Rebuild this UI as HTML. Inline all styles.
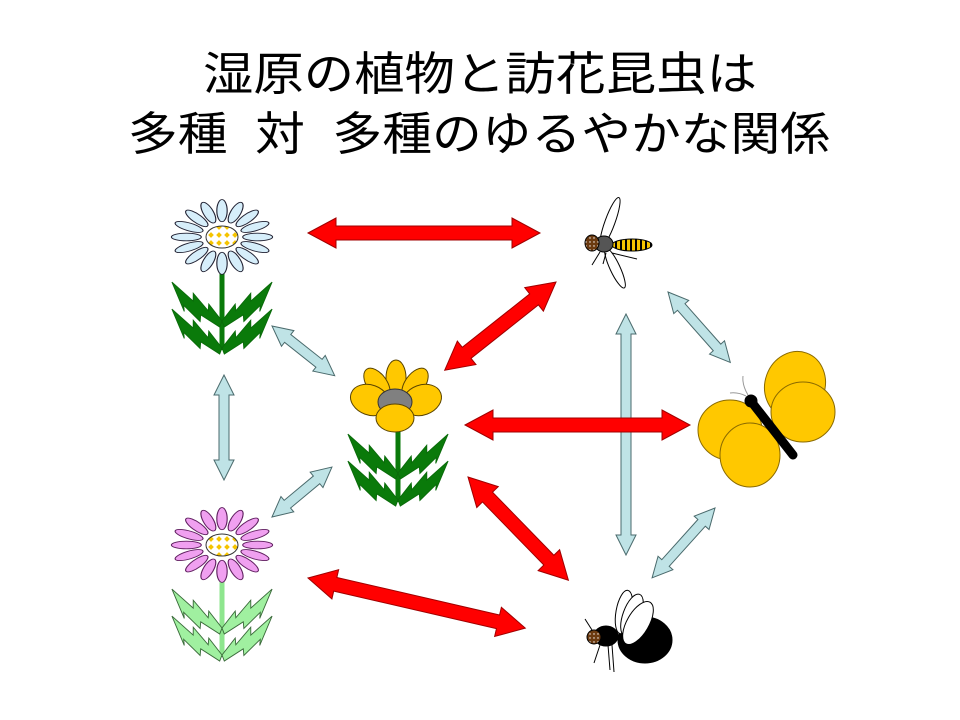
<!DOCTYPE html>
<html><head><meta charset="utf-8"><style>html,body{margin:0;padding:0;background:#fff}svg{display:block}</style></head>
<body>
<svg width="960" height="720" viewBox="0 0 960 720" xmlns="http://www.w3.org/2000/svg">
<defs>
<pattern id="chk" width="8" height="8" patternUnits="userSpaceOnUse">
<rect width="8" height="8" fill="#fff"/><rect x="1" y="1" width="4" height="4" fill="#f5c400" transform="rotate(45 3 3)"/>
</pattern>
<pattern id="dots" width="4" height="4" patternUnits="userSpaceOnUse"><rect width="4" height="4" fill="#6b3a10"/><circle cx="2" cy="2" r="0.7" fill="#fff"/></pattern>
<pattern id="stripe" width="5" height="10" patternUnits="userSpaceOnUse"><rect width="5" height="10" fill="#f5c400"/><rect width="2" height="10" fill="#000"/></pattern>
<g id="pet">
<ellipse cx="0" cy="-31" rx="4.5" ry="13"/>
<ellipse cx="0" cy="-31" rx="4.5" ry="13" transform="rotate(22.5)"/>
<ellipse cx="0" cy="-31" rx="4.5" ry="13" transform="rotate(45)"/>
<ellipse cx="0" cy="-31" rx="4.5" ry="13" transform="rotate(67.5)"/>
<ellipse cx="0" cy="-31" rx="4.5" ry="13" transform="rotate(90)"/>
<ellipse cx="0" cy="-31" rx="4.5" ry="13" transform="rotate(112.5)"/>
<ellipse cx="0" cy="-31" rx="4.5" ry="13" transform="rotate(135)"/>
<ellipse cx="0" cy="-31" rx="4.5" ry="13" transform="rotate(157.5)"/>
<ellipse cx="0" cy="-31" rx="4.5" ry="13" transform="rotate(180)"/>
<ellipse cx="0" cy="-31" rx="4.5" ry="13" transform="rotate(202.5)"/>
<ellipse cx="0" cy="-31" rx="4.5" ry="13" transform="rotate(225)"/>
<ellipse cx="0" cy="-31" rx="4.5" ry="13" transform="rotate(247.5)"/>
<ellipse cx="0" cy="-31" rx="4.5" ry="13" transform="rotate(270)"/>
<ellipse cx="0" cy="-31" rx="4.5" ry="13" transform="rotate(292.5)"/>
<ellipse cx="0" cy="-31" rx="4.5" ry="13" transform="rotate(315)"/>
<ellipse cx="0" cy="-31" rx="4.5" ry="13" transform="rotate(337.5)"/>
</g>
<polygon id="leaf" transform="rotate(21) scale(0.92)" points="0,0 -20,-12 -18,-5 -40,-17 -37,-9 -66,-20 -42,5 -45,-1 -22,9 -24,2 0,7"/>
<g id="leaves">
<use href="#leaf"/>
<use href="#leaf" transform="scale(-1,1)"/>
<use href="#leaf" transform="translate(0,-27)"/>
<use href="#leaf" transform="translate(0,-27) scale(-1,1)"/>
</g>
</defs>
<text x="480" y="90" font-family="Liberation Sans, Noto Sans CJK JP, sans-serif" font-size="46" text-anchor="middle" textLength="554" lengthAdjust="spacingAndGlyphs">湿原の植物と訪花昆虫は</text>
<text x="479" y="150" font-family="Liberation Sans, Noto Sans CJK JP, sans-serif" font-size="46" text-anchor="middle" textLength="702" lengthAdjust="spacingAndGlyphs">多種&#160;&#160;対&#160;&#160;多種のゆるやかな関係</text>

<!-- blue arrows -->
<g fill="#bfe3e6" stroke="#4a6a6c" stroke-width="1">
<polygon transform="translate(272 326) rotate(38.4)" points="0,0 20,-10 20,-5 60,-5 60,-10 80,0 60,10 60,5 20,5 20,10"/>
<polygon transform="translate(224 375) rotate(90)" points="0,0 20,-10 20,-5 85,-5 85,-10 105,0 85,10 85,5 20,5 20,10"/>
<polygon transform="translate(272 517) rotate(-39.8)" points="0,0 20,-10 20,-5 58,-5 58,-10 78,0 58,10 58,5 20,5 20,10"/>
<polygon transform="translate(626 314) rotate(90)" points="0,0 20,-10 20,-5 221,-5 221,-10 241,0 221,10 221,5 20,5 20,10"/>
<polygon transform="translate(668 292) rotate(48.5)" points="0,0 20,-10 20,-5 74,-5 74,-10 94,0 74,10 74,5 20,5 20,10"/>
<polygon transform="translate(715 508) rotate(132)" points="0,0 20,-10 20,-5 74,-5 74,-10 94,0 74,10 74,5 20,5 20,10"/>
</g>
<!-- red arrows -->
<g fill="#ff0000" stroke="#a00000" stroke-width="1">
<polygon transform="translate(308 233)" points="0,0 28,-15 28,-7 204,-7 204,-15 232,0 204,15 204,7 28,7 28,15"/>
<polygon transform="translate(556 282) rotate(141.6)" points="0,0 28,-15 28,-7 114,-7 114,-15 142,0 114,15 114,7 28,7 28,15"/>
<polygon transform="translate(465 425)" points="0,0 28,-15 28,-7 197,-7 197,-15 225,0 197,15 197,7 28,7 28,15"/>
<polygon transform="translate(468 477) rotate(45.8)" points="0,0 28,-15 28,-7 116,-7 116,-15 144,0 116,15 116,7 28,7 28,15"/>
<polygon transform="translate(308 578) rotate(13)" points="0,0 28,-15 28,-7 195,-7 195,-15 223,0 195,15 195,7 28,7 28,15"/>
</g>

<!-- top daisy -->
<line x1="222" y1="265" x2="222" y2="350" stroke="#0a7a0a" stroke-width="5"/>
<use href="#leaves" transform="translate(222 348)" fill="#0a7a0a" stroke="#0a6a0a"/>
<use href="#pet" transform="translate(222 237) scale(1.15 0.85)" fill="#d6eefa" stroke="#223" stroke-width="1"/>
<ellipse cx="222" cy="237" rx="16" ry="11" fill="url(#chk)" stroke="#333"/>

<!-- pink daisy -->
<line x1="222" y1="572" x2="222" y2="657" stroke="#8ee68e" stroke-width="5"/>
<use href="#leaves" transform="translate(222 655)" fill="#a0f0a0" stroke="#3a6a3a"/>
<use href="#pet" transform="translate(222 545) scale(1.15 0.85)" fill="#f0a0f0" stroke="#602060" stroke-width="1"/>
<ellipse cx="222" cy="545" rx="16" ry="11" fill="url(#chk)" stroke="#333"/>

<!-- yellow flower -->
<line x1="398" y1="415" x2="398" y2="502" stroke="#0a7a0a" stroke-width="5"/>
<use href="#leaves" transform="translate(398 500)" fill="#0a7a0a" stroke="#0a6a0a"/>
<g fill="#ffc800" stroke="#5a4400" stroke-width="1">
<ellipse cx="396" cy="378" rx="10" ry="18"/>
<ellipse cx="377" cy="384" rx="10" ry="18" transform="rotate(-35 377 384)"/>
<ellipse cx="415" cy="384" rx="10" ry="18" transform="rotate(35 415 384)"/>
<ellipse cx="370" cy="400" rx="20" ry="15" transform="rotate(20 370 400)"/>
<ellipse cx="422" cy="400" rx="20" ry="15" transform="rotate(-20 422 400)"/>
<ellipse cx="395" cy="402" rx="17" ry="13" fill="#808080" stroke="#333"/>
<ellipse cx="395" cy="418" rx="19" ry="14"/>
</g>

<!-- hoverfly -->
<g stroke="#000" stroke-width="1">
<ellipse cx="610" cy="222" rx="5" ry="26" fill="#fff" transform="rotate(20 610 222)"/>
<ellipse cx="615" cy="268" rx="5" ry="22" fill="#fff" transform="rotate(-25 615 268)"/>
<line x1="600" y1="252" x2="592" y2="265"/><line x1="606" y1="253" x2="603" y2="264"/><line x1="612" y1="253" x2="637" y2="259"/>
<ellipse cx="632" cy="245" rx="20" ry="6" fill="url(#stripe)"/>
<ellipse cx="604" cy="244" rx="9" ry="8" fill="#555"/>
<ellipse cx="592" cy="243" rx="7" ry="8" fill="url(#dots)"/>
</g>
<!-- butterfly -->
<g stroke="#8a6a00" stroke-width="1" fill="#ffc800">
<ellipse cx="795" cy="385" rx="30" ry="34" transform="rotate(20 795 385)"/>
<ellipse cx="803" cy="412" rx="32" ry="30"/>
<ellipse cx="730" cy="430" rx="32" ry="30"/>
<ellipse cx="750" cy="455" rx="30" ry="32"/>
<line x1="750" y1="400" x2="793" y2="455" stroke="#000" stroke-width="9" stroke-linecap="round"/>
<circle cx="751" cy="401" r="6" fill="#000" stroke="#000"/>
<path d="M748 395 Q742 385 743 376 M746 396 Q738 392 730 393" fill="none" stroke="#999"/>
</g>
<!-- bee -->
<g stroke="#000" stroke-width="1">
<ellipse cx="645" cy="640" rx="27" ry="23" fill="#000"/>
<ellipse cx="606" cy="636" rx="12" ry="10" fill="#000"/>
<circle cx="594" cy="637" r="7" fill="url(#dots)"/>
<ellipse cx="624" cy="612" rx="8" ry="22" fill="#fff" transform="rotate(10 624 612)"/>
<ellipse cx="632" cy="615" rx="9" ry="22" fill="#fff" transform="rotate(20 632 615)"/>
<ellipse cx="638" cy="623" rx="11" ry="24" fill="#fff" transform="rotate(30 638 623)"/>
<line x1="592" y1="630" x2="585" y2="619"/><line x1="600" y1="645" x2="594" y2="663"/><line x1="608" y1="645" x2="610" y2="670"/><line x1="612" y1="645" x2="614" y2="672"/>
</g>
</svg>
</body></html>
